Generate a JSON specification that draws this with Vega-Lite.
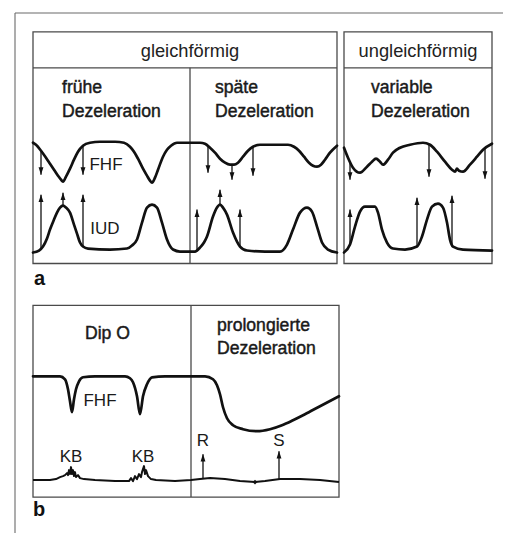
{
  "$schema": "https://vega.github.io/schema/vega-lite/v6.json",
  "width": 509,
  "height": 534,
  "autosize": {"type": "fit", "contains": "padding"},
  "padding": 0,
  "background": "white",
  "config": {"view": {"stroke": null}, "font": "Liberation Sans"},
  "datasets": {
    "boxes": [
      {"x1": 33, "x2": 337, "y1": 32, "y2": 264},
      {"x1": 344, "x2": 492, "y1": 32, "y2": 264},
      {"x1": 33, "x2": 339, "y1": 306, "y2": 498}
    ],
    "lines": [
      {"kind": "frame", "x1": 15, "y1": 13, "x2": 503, "y2": 13},
      {"kind": "frame", "x1": 15, "y1": 13, "x2": 15, "y2": 534},
      {"kind": "inner", "x1": 33, "y1": 68, "x2": 337, "y2": 68},
      {"kind": "inner", "x1": 344, "y1": 68, "x2": 492, "y2": 68},
      {"kind": "inner", "x1": 190, "y1": 68, "x2": 190, "y2": 264},
      {"kind": "inner", "x1": 191, "y1": 306, "x2": 191, "y2": 498}
    ],
    "curves": [
      {"id": "a_fhf", "x": 33, "y": 143}, {"id": "a_fhf", "x": 36, "y": 145}, {"id": "a_fhf", "x": 41, "y": 151}, {"id": "a_fhf", "x": 46, "y": 158}, {"id": "a_fhf", "x": 50, "y": 164}, {"id": "a_fhf", "x": 54, "y": 170}, {"id": "a_fhf", "x": 58, "y": 176}, {"id": "a_fhf", "x": 61, "y": 180}, {"id": "a_fhf", "x": 63, "y": 182}, {"id": "a_fhf", "x": 66, "y": 177}, {"id": "a_fhf", "x": 70, "y": 169}, {"id": "a_fhf", "x": 74, "y": 160}, {"id": "a_fhf", "x": 78, "y": 152}, {"id": "a_fhf", "x": 83, "y": 146}, {"id": "a_fhf", "x": 90, "y": 143}, {"id": "a_fhf", "x": 100, "y": 142}, {"id": "a_fhf", "x": 115, "y": 142}, {"id": "a_fhf", "x": 124, "y": 143}, {"id": "a_fhf", "x": 130, "y": 147}, {"id": "a_fhf", "x": 134, "y": 152}, {"id": "a_fhf", "x": 138, "y": 159}, {"id": "a_fhf", "x": 143, "y": 169}, {"id": "a_fhf", "x": 147, "y": 176}, {"id": "a_fhf", "x": 150, "y": 181}, {"id": "a_fhf", "x": 152, "y": 183}, {"id": "a_fhf", "x": 155, "y": 178}, {"id": "a_fhf", "x": 158, "y": 170}, {"id": "a_fhf", "x": 163, "y": 157}, {"id": "a_fhf", "x": 167, "y": 150}, {"id": "a_fhf", "x": 171, "y": 146}, {"id": "a_fhf", "x": 177, "y": 143}, {"id": "a_fhf", "x": 190, "y": 143}, {"id": "a_fhf", "x": 200, "y": 143}, {"id": "a_fhf", "x": 205, "y": 144}, {"id": "a_fhf", "x": 210, "y": 148}, {"id": "a_fhf", "x": 215, "y": 153}, {"id": "a_fhf", "x": 220, "y": 159}, {"id": "a_fhf", "x": 225, "y": 163}, {"id": "a_fhf", "x": 230, "y": 165}, {"id": "a_fhf", "x": 234, "y": 165}, {"id": "a_fhf", "x": 238, "y": 163}, {"id": "a_fhf", "x": 243, "y": 157}, {"id": "a_fhf", "x": 248, "y": 151}, {"id": "a_fhf", "x": 253, "y": 147}, {"id": "a_fhf", "x": 260, "y": 145}, {"id": "a_fhf", "x": 275, "y": 145}, {"id": "a_fhf", "x": 288, "y": 145}, {"id": "a_fhf", "x": 294, "y": 147}, {"id": "a_fhf", "x": 299, "y": 151}, {"id": "a_fhf", "x": 304, "y": 157}, {"id": "a_fhf", "x": 309, "y": 163}, {"id": "a_fhf", "x": 313, "y": 166}, {"id": "a_fhf", "x": 317, "y": 167}, {"id": "a_fhf", "x": 321, "y": 165}, {"id": "a_fhf", "x": 325, "y": 160}, {"id": "a_fhf", "x": 330, "y": 153}, {"id": "a_fhf", "x": 337, "y": 146},
      {"id": "a_iud", "x": 33, "y": 253}, {"id": "a_iud", "x": 39, "y": 251}, {"id": "a_iud", "x": 43, "y": 247}, {"id": "a_iud", "x": 47, "y": 239}, {"id": "a_iud", "x": 50, "y": 230}, {"id": "a_iud", "x": 54, "y": 220}, {"id": "a_iud", "x": 57, "y": 213}, {"id": "a_iud", "x": 60, "y": 208}, {"id": "a_iud", "x": 63, "y": 206}, {"id": "a_iud", "x": 66, "y": 208}, {"id": "a_iud", "x": 70, "y": 213}, {"id": "a_iud", "x": 74, "y": 225}, {"id": "a_iud", "x": 77, "y": 234}, {"id": "a_iud", "x": 80, "y": 243}, {"id": "a_iud", "x": 83, "y": 247}, {"id": "a_iud", "x": 88, "y": 249}, {"id": "a_iud", "x": 110, "y": 250}, {"id": "a_iud", "x": 127, "y": 249}, {"id": "a_iud", "x": 132, "y": 246}, {"id": "a_iud", "x": 137, "y": 240}, {"id": "a_iud", "x": 142, "y": 223}, {"id": "a_iud", "x": 147, "y": 208}, {"id": "a_iud", "x": 152, "y": 205}, {"id": "a_iud", "x": 157, "y": 208}, {"id": "a_iud", "x": 162, "y": 223}, {"id": "a_iud", "x": 167, "y": 240}, {"id": "a_iud", "x": 173, "y": 250}, {"id": "a_iud", "x": 180, "y": 252}, {"id": "a_iud", "x": 195, "y": 252}, {"id": "a_iud", "x": 200, "y": 248}, {"id": "a_iud", "x": 204, "y": 243}, {"id": "a_iud", "x": 207, "y": 237}, {"id": "a_iud", "x": 213, "y": 217}, {"id": "a_iud", "x": 217, "y": 208}, {"id": "a_iud", "x": 220, "y": 205}, {"id": "a_iud", "x": 223, "y": 208}, {"id": "a_iud", "x": 227, "y": 215}, {"id": "a_iud", "x": 233, "y": 233}, {"id": "a_iud", "x": 240, "y": 247}, {"id": "a_iud", "x": 247, "y": 251}, {"id": "a_iud", "x": 265, "y": 252}, {"id": "a_iud", "x": 280, "y": 252}, {"id": "a_iud", "x": 287, "y": 245}, {"id": "a_iud", "x": 293, "y": 230}, {"id": "a_iud", "x": 300, "y": 213}, {"id": "a_iud", "x": 307, "y": 208}, {"id": "a_iud", "x": 312, "y": 212}, {"id": "a_iud", "x": 317, "y": 227}, {"id": "a_iud", "x": 322, "y": 243}, {"id": "a_iud", "x": 328, "y": 250}, {"id": "a_iud", "x": 337, "y": 253},
      {"id": "v_fhf", "x": 344, "y": 148}, {"id": "v_fhf", "x": 348, "y": 158}, {"id": "v_fhf", "x": 353, "y": 168}, {"id": "v_fhf", "x": 360, "y": 173}, {"id": "v_fhf", "x": 367, "y": 167}, {"id": "v_fhf", "x": 372, "y": 162}, {"id": "v_fhf", "x": 376, "y": 159}, {"id": "v_fhf", "x": 380, "y": 162}, {"id": "v_fhf", "x": 383, "y": 165}, {"id": "v_fhf", "x": 388, "y": 160}, {"id": "v_fhf", "x": 393, "y": 153}, {"id": "v_fhf", "x": 400, "y": 148}, {"id": "v_fhf", "x": 410, "y": 145}, {"id": "v_fhf", "x": 423, "y": 143}, {"id": "v_fhf", "x": 430, "y": 145}, {"id": "v_fhf", "x": 437, "y": 152}, {"id": "v_fhf", "x": 445, "y": 162}, {"id": "v_fhf", "x": 452, "y": 170}, {"id": "v_fhf", "x": 455, "y": 172}, {"id": "v_fhf", "x": 457, "y": 169}, {"id": "v_fhf", "x": 459, "y": 171}, {"id": "v_fhf", "x": 463, "y": 172}, {"id": "v_fhf", "x": 470, "y": 165}, {"id": "v_fhf", "x": 477, "y": 157}, {"id": "v_fhf", "x": 483, "y": 150}, {"id": "v_fhf", "x": 492, "y": 144},
      {"id": "v_iud", "x": 344, "y": 253}, {"id": "v_iud", "x": 350, "y": 245}, {"id": "v_iud", "x": 355, "y": 227}, {"id": "v_iud", "x": 360, "y": 212}, {"id": "v_iud", "x": 365, "y": 207}, {"id": "v_iud", "x": 375, "y": 207}, {"id": "v_iud", "x": 378, "y": 213}, {"id": "v_iud", "x": 382, "y": 230}, {"id": "v_iud", "x": 387, "y": 243}, {"id": "v_iud", "x": 393, "y": 249}, {"id": "v_iud", "x": 405, "y": 250}, {"id": "v_iud", "x": 417, "y": 247}, {"id": "v_iud", "x": 422, "y": 237}, {"id": "v_iud", "x": 427, "y": 220}, {"id": "v_iud", "x": 432, "y": 207}, {"id": "v_iud", "x": 438, "y": 204}, {"id": "v_iud", "x": 443, "y": 208}, {"id": "v_iud", "x": 447, "y": 223}, {"id": "v_iud", "x": 450, "y": 240}, {"id": "v_iud", "x": 453, "y": 247}, {"id": "v_iud", "x": 463, "y": 250}, {"id": "v_iud", "x": 492, "y": 251},
      {"id": "b_fhf", "x": 33, "y": 377}, {"id": "b_fhf", "x": 60, "y": 377}, {"id": "b_fhf", "x": 65, "y": 380}, {"id": "b_fhf", "x": 68, "y": 390}, {"id": "b_fhf", "x": 70, "y": 402}, {"id": "b_fhf", "x": 72, "y": 413}, {"id": "b_fhf", "x": 74, "y": 400}, {"id": "b_fhf", "x": 76, "y": 390}, {"id": "b_fhf", "x": 79, "y": 382}, {"id": "b_fhf", "x": 83, "y": 378}, {"id": "b_fhf", "x": 95, "y": 377}, {"id": "b_fhf", "x": 125, "y": 377}, {"id": "b_fhf", "x": 130, "y": 379}, {"id": "b_fhf", "x": 133, "y": 383}, {"id": "b_fhf", "x": 137, "y": 397}, {"id": "b_fhf", "x": 140, "y": 415}, {"id": "b_fhf", "x": 143, "y": 397}, {"id": "b_fhf", "x": 147, "y": 385}, {"id": "b_fhf", "x": 152, "y": 378}, {"id": "b_fhf", "x": 165, "y": 377}, {"id": "b_fhf", "x": 205, "y": 377}, {"id": "b_fhf", "x": 213, "y": 380}, {"id": "b_fhf", "x": 217, "y": 386}, {"id": "b_fhf", "x": 220, "y": 395}, {"id": "b_fhf", "x": 223, "y": 408}, {"id": "b_fhf", "x": 227, "y": 419}, {"id": "b_fhf", "x": 233, "y": 426}, {"id": "b_fhf", "x": 243, "y": 430}, {"id": "b_fhf", "x": 257, "y": 432}, {"id": "b_fhf", "x": 270, "y": 430}, {"id": "b_fhf", "x": 282, "y": 426}, {"id": "b_fhf", "x": 293, "y": 421}, {"id": "b_fhf", "x": 305, "y": 415}, {"id": "b_fhf", "x": 320, "y": 407}, {"id": "b_fhf", "x": 339, "y": 397}
    ],
    "noisy": [
      {"x": 33, "y": 481}, {"x": 50, "y": 481}, {"x": 56, "y": 480}, {"x": 60, "y": 478}, {"x": 63, "y": 477}, {"x": 65, "y": 476}, {"x": 67, "y": 474}, {"x": 68, "y": 476}, {"x": 69, "y": 471}, {"x": 70, "y": 475}, {"x": 71, "y": 468}, {"x": 72, "y": 475}, {"x": 73, "y": 471}, {"x": 74, "y": 477}, {"x": 75, "y": 473}, {"x": 76, "y": 478}, {"x": 78, "y": 476}, {"x": 80, "y": 479}, {"x": 84, "y": 480}, {"x": 95, "y": 481}, {"x": 115, "y": 482}, {"x": 129, "y": 482}, {"x": 131, "y": 479}, {"x": 133, "y": 482}, {"x": 135, "y": 477}, {"x": 137, "y": 480}, {"x": 139, "y": 475}, {"x": 141, "y": 478}, {"x": 142, "y": 473}, {"x": 144, "y": 467}, {"x": 145, "y": 475}, {"x": 146, "y": 471}, {"x": 148, "y": 477}, {"x": 151, "y": 480}, {"x": 156, "y": 481}, {"x": 175, "y": 482}, {"x": 191, "y": 481}, {"x": 200, "y": 480}, {"x": 210, "y": 479}, {"x": 225, "y": 480}, {"x": 240, "y": 482}, {"x": 255, "y": 483}, {"x": 265, "y": 482}, {"x": 280, "y": 480}, {"x": 300, "y": 480}, {"x": 320, "y": 481}, {"x": 339, "y": 483}
    ],
    "dots": [{"x": 255, "y": 483}],
    "arrows": [
      {"x": 41, "from": 152, "to": 175, "dir": "down"},
      {"x": 83, "from": 146, "to": 175, "dir": "down"},
      {"x": 208, "from": 146, "to": 173, "dir": "down"},
      {"x": 232, "from": 165, "to": 180, "dir": "down"},
      {"x": 253, "from": 147, "to": 176, "dir": "down"},
      {"x": 350, "from": 162, "to": 180, "dir": "down"},
      {"x": 429, "from": 145, "to": 177, "dir": "down"},
      {"x": 485, "from": 149, "to": 179, "dir": "down"},
      {"x": 41, "from": 249, "to": 195, "dir": "up"},
      {"x": 63, "from": 206, "to": 193, "dir": "up"},
      {"x": 83, "from": 247, "to": 195, "dir": "up"},
      {"x": 197, "from": 252, "to": 210, "dir": "up"},
      {"x": 220, "from": 205, "to": 190, "dir": "up"},
      {"x": 240, "from": 247, "to": 210, "dir": "up"},
      {"x": 350, "from": 245, "to": 210, "dir": "up"},
      {"x": 417, "from": 247, "to": 198, "dir": "up"},
      {"x": 452, "from": 246, "to": 196, "dir": "up"},
      {"x": 203, "from": 479, "to": 455, "dir": "up"},
      {"x": 279, "from": 480, "to": 452, "dir": "up"}
    ],
    "texts": [
      {"kind": "header", "t": "gleichförmig", "x": 190, "y": 52},
      {"kind": "header", "t": "ungleichförmig", "x": 418, "y": 52},
      {"kind": "label", "t": "frühe", "x": 62, "y": 88},
      {"kind": "label", "t": "Dezeleration", "x": 62, "y": 112},
      {"kind": "label", "t": "späte", "x": 215, "y": 88},
      {"kind": "label", "t": "Dezeleration", "x": 215, "y": 112},
      {"kind": "label", "t": "variable", "x": 371, "y": 88},
      {"kind": "label", "t": "Dezeleration", "x": 371, "y": 112},
      {"kind": "label", "t": "Dip O", "x": 85, "y": 335},
      {"kind": "label", "t": "prolongierte", "x": 217, "y": 327},
      {"kind": "label", "t": "Dezeleration", "x": 217, "y": 350},
      {"kind": "curve", "t": "FHF", "x": 106, "y": 165},
      {"kind": "curve", "t": "IUD", "x": 105, "y": 229},
      {"kind": "curve", "t": "FHF", "x": 100, "y": 402},
      {"kind": "curve", "t": "KB", "x": 71, "y": 458},
      {"kind": "curve", "t": "KB", "x": 143, "y": 458},
      {"kind": "curve", "t": "R", "x": 203, "y": 442},
      {"kind": "curve", "t": "S", "x": 279, "y": 442},
      {"kind": "letter", "t": "a", "x": 34, "y": 280},
      {"kind": "letter", "t": "b", "x": 33, "y": 511}
    ]
  },
  "layer": [
    {
      "data": {"name": "boxes"},
      "mark": {"type": "rect", "fill": null, "fillOpacity": 0, "stroke": "#4a4a4a", "strokeWidth": 1.3},
      "encoding": {
        "x": {"field": "x1", "type": "quantitative", "scale": {"domain": [0, 509], "nice": false, "zero": false}, "axis": null},
        "x2": {"field": "x2"},
        "y": {"field": "y1", "type": "quantitative", "scale": {"domain": [0, 534], "nice": false, "zero": false, "reverse": true}, "axis": null},
        "y2": {"field": "y2"}
      }
    },
    {
      "data": {"name": "lines"},
      "transform": [{"filter": "datum.kind === 'frame'"}],
      "mark": {"type": "rule", "stroke": "#6a6a6a", "strokeWidth": 1.1},
      "encoding": {
        "x": {"field": "x1", "type": "quantitative"},
        "x2": {"field": "x2"},
        "y": {"field": "y1", "type": "quantitative"},
        "y2": {"field": "y2"}
      }
    },
    {
      "data": {"name": "lines"},
      "transform": [{"filter": "datum.kind === 'inner'"}],
      "mark": {"type": "rule", "stroke": "#4a4a4a", "strokeWidth": 1.3},
      "encoding": {
        "x": {"field": "x1", "type": "quantitative"},
        "x2": {"field": "x2"},
        "y": {"field": "y1", "type": "quantitative"},
        "y2": {"field": "y2"}
      }
    },
    {
      "data": {"name": "curves"},
      "mark": {"type": "line", "interpolate": "monotone", "stroke": "#111", "strokeWidth": 2.7, "strokeJoin": "round", "strokeCap": "round"},
      "encoding": {
        "x": {"field": "x", "type": "quantitative"},
        "y": {"field": "y", "type": "quantitative"},
        "detail": {"field": "id"}
      }
    },
    {
      "data": {"name": "noisy"},
      "mark": {"type": "line", "interpolate": "linear", "stroke": "#111", "strokeWidth": 2, "strokeJoin": "round"},
      "encoding": {
        "x": {"field": "x", "type": "quantitative"},
        "y": {"field": "y", "type": "quantitative"}
      }
    },
    {
      "data": {"name": "dots"},
      "mark": {"type": "point", "filled": true, "color": "#111", "size": 22, "shape": "diamond", "opacity": 1},
      "encoding": {
        "x": {"field": "x", "type": "quantitative"},
        "y": {"field": "y", "type": "quantitative"}
      }
    },
    {
      "data": {"name": "arrows"},
      "mark": {"type": "rule", "stroke": "#111", "strokeWidth": 1.3},
      "encoding": {
        "x": {"field": "x", "type": "quantitative"},
        "y": {"field": "from", "type": "quantitative"},
        "y2": {"field": "to"}
      }
    },
    {
      "data": {"name": "arrows"},
      "transform": [{"filter": "datum.dir === 'up'"}],
      "mark": {"type": "point", "filled": true, "color": "#111", "opacity": 1, "size": 56, "strokeWidth": 0, "shape": "M0,-1L0.65,1L-0.65,1Z", "yOffset": 3.7},
      "encoding": {
        "x": {"field": "x", "type": "quantitative"},
        "y": {"field": "to", "type": "quantitative"}
      }
    },
    {
      "data": {"name": "arrows"},
      "transform": [{"filter": "datum.dir === 'down'"}],
      "mark": {"type": "point", "filled": true, "color": "#111", "opacity": 1, "size": 56, "strokeWidth": 0, "shape": "M0,1L0.65,-1L-0.65,-1Z", "yOffset": -3.7},
      "encoding": {
        "x": {"field": "x", "type": "quantitative"},
        "y": {"field": "to", "type": "quantitative"}
      }
    },
    {
      "data": {"name": "texts"},
      "transform": [{"filter": "datum.kind === 'header'"}],
      "mark": {"type": "text", "align": "center", "baseline": "middle", "fontSize": 18.3, "color": "#222"},
      "encoding": {
        "x": {"field": "x", "type": "quantitative"},
        "y": {"field": "y", "type": "quantitative"},
        "text": {"field": "t"}
      }
    },
    {
      "data": {"name": "texts"},
      "transform": [{"filter": "datum.kind === 'label'"}],
      "mark": {"type": "text", "align": "left", "baseline": "middle", "fontSize": 17.6, "color": "#1a1a1a", "stroke": "#1a1a1a", "strokeWidth": 0.45},
      "encoding": {
        "x": {"field": "x", "type": "quantitative"},
        "y": {"field": "y", "type": "quantitative"},
        "text": {"field": "t"}
      }
    },
    {
      "data": {"name": "texts"},
      "transform": [{"filter": "datum.kind === 'curve'"}],
      "mark": {"type": "text", "align": "center", "baseline": "middle", "fontSize": 17, "color": "#1a1a1a"},
      "encoding": {
        "x": {"field": "x", "type": "quantitative"},
        "y": {"field": "y", "type": "quantitative"},
        "text": {"field": "t"}
      }
    },
    {
      "data": {"name": "texts"},
      "transform": [{"filter": "datum.kind === 'letter'"}],
      "mark": {"type": "text", "align": "left", "baseline": "middle", "fontSize": 20, "fontWeight": "bold", "color": "#111"},
      "encoding": {
        "x": {"field": "x", "type": "quantitative"},
        "y": {"field": "y", "type": "quantitative"},
        "text": {"field": "t"}
      }
    }
  ]
}
